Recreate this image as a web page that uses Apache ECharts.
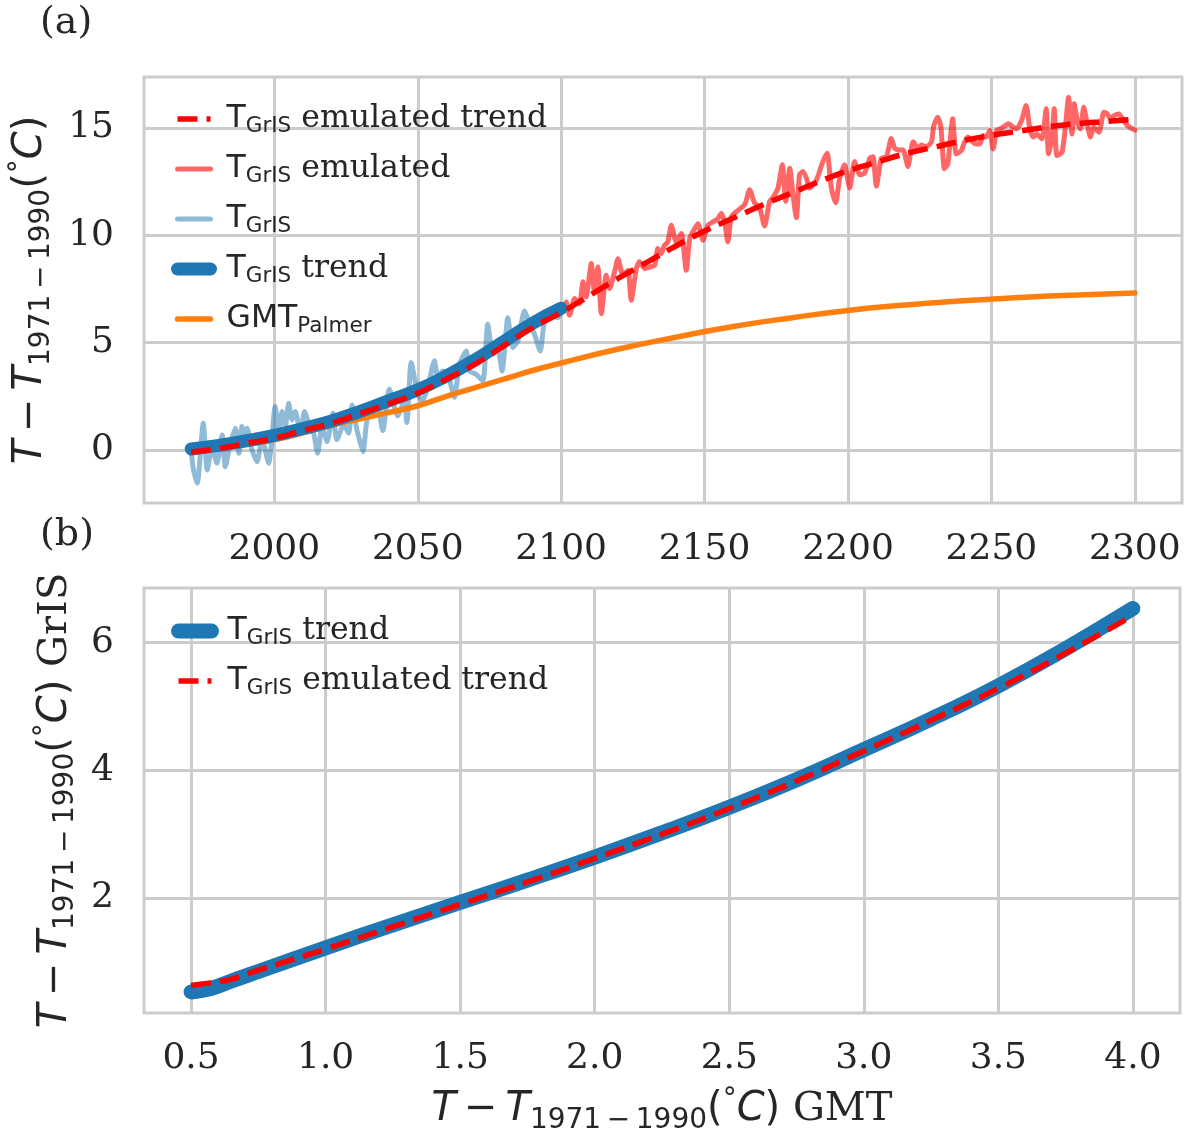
<!DOCTYPE html>
<html>
<head>
<meta charset="utf-8">
<title>GrIS temperature emulation</title>
<script src="https://cdn.jsdelivr.net/npm/echarts@6/dist/echarts.min.js"></script>
<style>
    html, body {margin: 0; padding: 0; background: #fff;}
    #chart {width: 1190px; height: 1134px;}
</style>
</head>
<body>
<div id="chart"></div>
<script>
// ---- data ----
// (a) trends, years vs degC
var grisTrendYears = [1971, 1980, 1990, 2000, 2010, 2020, 2030, 2040, 2050, 2060, 2070, 2080, 2090, 2100];
var grisTrend = [0.05, 0.2, 0.42, 0.68, 1.0, 1.35, 1.8, 2.3, 2.8, 3.45, 4.2, 5.05, 5.9, 6.6];

var emuTrendYears = [1971, 1980, 1990, 2000, 2010, 2020, 2030, 2040, 2050, 2060, 2070, 2080, 2090, 2100,
    2110, 2120, 2130, 2140, 2150, 2160, 2170, 2180, 2190, 2200, 2210, 2220, 2230, 2240, 2250, 2260, 2270, 2280, 2290, 2300];
var emuTrend = [-0.1, 0.05, 0.3, 0.55, 0.9, 1.25, 1.7, 2.15, 2.65, 3.3, 4.0, 4.85, 5.7, 6.4,
    7.2, 8.0, 8.75, 9.5, 10.2, 10.8, 11.4, 11.95, 12.5, 13.0, 13.4, 13.8, 14.1, 14.4, 14.65, 14.85, 15.05, 15.2, 15.3, 15.4];

var gmtYears = [1971, 1980, 1990, 2000, 2010, 2020, 2030, 2040, 2050, 2060, 2070, 2080, 2090, 2100,
    2120, 2140, 2160, 2180, 2200, 2220, 2240, 2260, 2280, 2300];
var gmtPalmer = [-0.15, 0.05, 0.25, 0.47, 0.8, 1.15, 1.45, 1.75, 2.06, 2.5, 2.9, 3.3, 3.7, 4.05,
    4.7, 5.25, 5.75, 6.15, 6.5, 6.75, 6.95, 7.1, 7.22, 7.31];

// (a) yearly GrIS temperature (model), 1971-2100
var grisYears = [1971, 1971.7, 1973.1, 1975.2, 1976.6, 1978.3, 1980, 1981.8, 1982.9, 1984.4,
    1986.4, 1987.6, 1988.7, 1989.6, 1990.5, 1992.2, 1994, 1995.7, 1998, 2000.3,
    2001.5, 2002.7, 2003.8, 2005, 2006.2, 2007.3, 2009.1, 2010.5, 2012, 2013.7,
    2015.1, 2016.6, 2018.4, 2020.4, 2021.8, 2024.2, 2025.9, 2027.1, 2028.8, 2030.9,
    2032.3, 2034, 2035.8, 2037.8, 2040.1, 2043, 2045.3, 2046.2, 2047.7, 2050,
    2051.7, 2053.5, 2055.8, 2057, 2058.7, 2060.5, 2062.8, 2064.5, 2066.9, 2068,
    2070.3, 2072.7, 2074.4, 2076.2, 2077.9, 2079.4, 2081.4, 2083.1, 2084.9, 2087.2,
    2089, 2090.7, 2092.7, 2094.2, 2096.5, 2098.8, 2100];
var grisValues = [0.0, -0.85, -1.55, 1.24, -0.93, 0.16, -0.62, 0.7, -0.78, 0.16,
    1.01, -0.15, 1.09, 0.45, 1.01, 0.0, -0.54, 0.54, -0.62, 2.02,
    0.93, 1.79, 1.09, 2.17, 1.4, 1.79, 0.78, 1.79, 1.24, 0.78,
    -0.15, 1.09, 0.39, 1.71, 0.47, 1.17, 0.78, 2.09, 0.93, -0.08,
    1.4, 1.71, 2.17, 0.9, 2.83, 1.59, 2.29, 1.28, 4.07, 2.6,
    2.29, 2.91, 4.15, 3.37, 3.68, 3.53, 2.45, 3.99, 4.61, 3.68,
    3.53, 3.22, 5.85, 4.46, 4.69, 3.68, 6.16, 4.77, 5.08, 6.47,
    5.85, 5.39, 4.61, 6.0, 6.32, 6.16, 6.47];

// (a) yearly emulated GrIS temperature, 2100-2300
var emuYears = [2100, 2101.7, 2102.9, 2104.7, 2106.4, 2107.6, 2108.7, 2110.5, 2111.6, 2112.8,
    2114, 2115.7, 2116.9, 2118.6, 2119.8, 2121.5, 2123.3, 2124.4, 2126.2, 2127.3,
    2129.1, 2130.8, 2132.6, 2133.7, 2134.9, 2136, 2137.2, 2138.4, 2140.1, 2141.9,
    2143.6, 2144.8, 2145.9, 2147.7, 2149.4, 2151.2, 2152.9, 2154.7, 2155.8, 2157,
    2158.1, 2159.3, 2161, 2164, 2165.7, 2167.4, 2169.2, 2170.9, 2172.7, 2173.8,
    2175.6, 2177.1, 2178.3, 2179.7, 2180.8, 2182, 2183.1, 2184.3, 2185.5, 2186.6,
    2188.4, 2189.5, 2191, 2192.7, 2194.2, 2195.7, 2197.1, 2198.8, 2200.6, 2202.3,
    2204.1, 2205.8, 2207.6, 2208.7, 2209.9, 2211.6, 2213.4, 2215.1, 2216.3, 2217.8,
    2219.2, 2220.9, 2222.7, 2224.4, 2225.6, 2227.3, 2229.1, 2229.9, 2231.3, 2232.4,
    2233.6, 2234.8, 2236.5, 2237.7, 2239.5, 2240.6, 2241.8, 2243.6, 2244.7, 2245.9,
    2247.1, 2248.2, 2249.4, 2250.6, 2251.8, 2252.9, 2254.1, 2255.9, 2257.6, 2258.8,
    2260.5, 2262.1, 2263.5, 2264.6, 2265.8, 2267.6, 2269.1, 2269.9, 2271.1, 2271.9,
    2272.8, 2274.6, 2275.8, 2276.9, 2278.1, 2278.9, 2279.9, 2281, 2282.2, 2283.4,
    2284.5, 2285.7, 2287.5, 2289.2, 2290.4, 2291.6, 2292.7, 2294.5, 2295.7, 2297.4,
    2299.2, 2300];
var emuValues = [6.45, 6.89, 6.27, 7.05, 6.82, 7.83, 7.13, 8.68, 7.36, 8.52,
    6.35, 8.14, 7.52, 8.29, 8.91, 8.14, 8.37, 6.97, 8.45, 8.76,
    8.45, 8.52, 8.6, 9.38, 9.15, 9.53, 9.69, 10.47, 9.69, 10.08,
    8.37, 9.84, 10.16, 10.54, 9.77, 10.47, 10.62, 10.78, 11.01, 10.62,
    9.69, 10.85, 11.09, 11.43, 12.12, 11.51, 11.28, 10.43, 11.58, 11.74,
    12.2, 13.28, 11.58, 13.12, 11.89, 10.82, 12.82, 12.97, 12.66, 12.2,
    12.43, 12.74, 13.35, 13.82, 12.2, 11.51, 12.66, 13.28, 12.2, 13.43,
    12.82, 12.89, 13.58, 13.66, 12.28, 13.58, 13.66, 14.51, 14.05, 13.97,
    13.97, 13.2, 14.35, 14.05, 14.2, 14.12, 14.35, 15.1, 15.5, 15.03,
    13.1, 13.32, 15.42, 13.79, 13.94, 14.33, 14.57, 14.33, 14.25, 14.25,
    14.64, 14.57, 14.88, 14.02, 14.88, 14.95, 15.03, 15.19, 15.03, 14.95,
    15.34, 16.04, 14.88, 14.57, 14.72, 14.49, 15.89, 13.79, 14.49, 15.89,
    13.71, 13.87, 15.03, 16.43, 14.72, 16.12, 15.34, 14.95, 15.96, 15.19,
    14.57, 15.03, 14.8, 15.73, 15.65, 15.42, 15.57, 15.65, 15.42, 15.11,
    14.95, 14.9];

// (b) GrIS trend against GMT trend
var gmtTrend = [0.5, 0.55, 0.6, 0.65, 0.75, 1.0, 1.25, 1.5, 1.75, 2.0, 2.25, 2.5, 2.75, 3.0, 3.25, 3.5, 3.75, 4.0];
var grisVsGmt = [0.53, 0.56, 0.62, 0.7, 0.85, 1.22, 1.58, 1.93, 2.28, 2.64, 3.02, 3.42, 3.85, 4.32, 4.8, 5.32, 5.9, 6.53];
var emuVsGmt = [0.63, 0.66, 0.69, 0.73, 0.87, 1.2, 1.55, 1.9, 2.25, 2.62, 3.0, 3.4, 3.83, 4.3, 4.78, 5.28, 5.83, 6.42];

// tick labels
var yearTicks = [2000, 2050, 2100, 2150, 2200, 2250, 2300];
var tempTicksA = [0, 5, 10, 15];
var gmtTicks = [0.5, 1.0, 1.5, 2.0, 2.5, 3.0, 3.5, 4.0];
var tempTicksB = [2, 4, 6];

// ---- styling ----
var SERIF = 'DejaVu Serif', SANS = 'DejaVu Sans';
var TEXT = '#262626', GRIDC = '#cccccc';
var BLUE = '#1f77b4', RED = '#ff0000', ORANGE = '#ff7f0e';

var legendRich = {
    t: {fontFamily: SANS, fontSize: 31.5, lineHeight: 40, color: TEXT, padding: [0, 0, 0, 11]},
    s: {fontFamily: SANS, fontSize: 21.5, lineHeight: 21, color: TEXT, padding: [14, 0, 0, 0]},
    r: {fontFamily: SERIF, fontSize: 31.5, lineHeight: 40, color: TEXT}
};
var legendText = {
    'emu trend': '{t|T}{s|GrIS}{r| emulated trend}',
    'emulated': '{t|T}{s|GrIS}{r| emulated}',
    'gris': '{t|T}{s|GrIS}',
    'gris trend': '{t|T}{s|GrIS}{r| trend}',
    'gmt': '{t|GMT}{s|Palmer}',
    'gris trend b': '{t|T}{s|GrIS}{r| trend}',
    'emu trend b': '{t|T}{s|GrIS}{r| emulated trend}'
};

var titleRich = {
    it: {fontFamily: SANS, fontStyle: 'italic', fontSize: 40, lineHeight: 50, color: TEXT},
    n: {fontFamily: SANS, fontSize: 40, lineHeight: 50, color: TEXT},
    sub: {fontFamily: SANS, fontSize: 28, lineHeight: 28, color: TEXT, padding: [21, 0, 0, 0]},
    sup: {fontFamily: SANS, fontSize: 28, lineHeight: 28, color: TEXT, padding: [0, 0, 20, 0]},
    r: {fontFamily: SERIF, fontSize: 40, lineHeight: 50, color: TEXT}
};
var tempTitle = '{it|T}{n|\u2009\u2212\u2009}{it|T}{sub|1971\u2009\u2212\u20091990}{n|(}{sup|\u00b0}{it|C}{n|)}';

function pairs(xs, ys) {
    return xs.map(function (x, i) { return [x, ys[i]]; });
}

function line(name, grid, xs, ys, color, width, z, extra) {
    var s = {
        type: 'line', name: name, xAxisIndex: grid, yAxisIndex: grid,
        data: pairs(xs, ys), showSymbol: false, symbol: 'none', z: z,
        silent: true, animation: false,
        itemStyle: {color: color},
        lineStyle: {color: color, width: width, cap: 'round', join: 'round'}
    };
    if (extra && extra.dash) { s.lineStyle.type = extra.dash; s.lineStyle.cap = 'butt'; }
    if (extra && extra.smooth) { s.smooth = extra.smooth; }
    return s;
}

function valueAxis(grid, min, max, ticks, margin, fmt) {
    return {
        gridIndex: grid, type: 'value', min: min, max: max,
        axisLine: {show: false},
        axisTick: {show: false, customValues: ticks},
        axisLabel: {customValues: ticks, margin: margin, fontFamily: SERIF, fontSize: 36, color: TEXT, formatter: fmt},
        splitLine: {show: true, lineStyle: {color: GRIDC, width: 3}}
    };
}

function legendBox(top, names) {
    return {
        orient: 'vertical', left: 171, top: top, padding: 0,
        itemWidth: 33, itemHeight: 14, itemGap: 14, selectedMode: false,
        data: names,
        formatter: function (name) { return legendText[name]; },
        textStyle: {fontFamily: SERIF, fontSize: 31.5, color: TEXT, rich: legendRich},
        // line only, no marker in the middle of the handle
        itemStyle: {opacity: 0, borderWidth: 0},
        lineStyle: {width: 'inherit'}
    };
}

var plain = function (v) { return String(v); };
var oneDec = function (v) { return v.toFixed(1); };

var xA = valueAxis(0, 1954.55, 2316.45, yearTicks, 29, plain);
var yA = valueAxis(0, -2.47, 17.37, tempTicksA, 30, plain);
var xB = valueAxis(1, 0.325, 4.175, gmtTicks, 28, oneDec);
var yB = valueAxis(1, 0.2, 6.85, tempTicksB, 30, plain);

yA.name = tempTitle; yA.nameLocation = 'middle'; yA.nameRotate = 90; yA.nameGap = 88;
yA.nameTextStyle = {rich: titleRich};
yB.name = tempTitle + '{r| GrIS}'; yB.nameLocation = 'middle'; yB.nameRotate = 90; yB.nameGap = 63;
yB.nameTextStyle = {rich: titleRich};
xB.name = tempTitle + '{r| GMT}'; xB.nameLocation = 'middle'; xB.nameGap = 72;
xB.nameTextStyle = {rich: titleRich};

var option = {
    backgroundColor: '#ffffff',
    animation: false,
    grid: [
        {left: 144, top: 77, width: 1038, height: 426, show: true, borderColor: GRIDC, borderWidth: 3, backgroundColor: 'transparent', outerBoundsMode: 'none'},
        {left: 144, top: 588, width: 1036, height: 425, show: true, borderColor: GRIDC, borderWidth: 3, backgroundColor: 'transparent', outerBoundsMode: 'none'}
    ],
    xAxis: [xA, xB],
    yAxis: [yA, yB],
    legend: [
        legendBox(101, ['emu trend', 'emulated', 'gris', 'gris trend', 'gmt']),
        legendBox(613, ['gris trend b', 'emu trend b'])
    ],
    graphic: [
        {type: 'text', left: 40, top: 4, style: {text: '(a)', font: '38px "DejaVu Serif"', fill: TEXT}},
        {type: 'text', left: 40, top: 516, style: {text: '(b)', font: '38px "DejaVu Serif"', fill: TEXT}}
    ],
    series: [
        line('gris', 0, grisYears, grisValues, 'rgba(31,119,180,0.5)', 5, 2, {smooth: 0.2}),
        line('emulated', 0, emuYears, emuValues, 'rgba(255,0,0,0.6)', 5, 3, {smooth: 0.2}),
        line('gmt', 0, gmtYears, gmtPalmer, ORANGE, 5.5, 4, {smooth: true}),
        line('gris trend', 0, grisTrendYears, grisTrend, BLUE, 13, 5, {smooth: true}),
        line('emu trend', 0, emuTrendYears, emuTrend, RED, 5.5, 6, {smooth: true, dash: [20, 9]}),
        line('gris trend b', 1, gmtTrend, grisVsGmt, BLUE, 15, 5, {smooth: true}),
        line('emu trend b', 1, gmtTrend, emuVsGmt, RED, 5.5, 6, {smooth: true, dash: [20, 9]})
    ]
};

var chart = echarts.init(document.getElementById('chart'), null, {renderer: 'canvas'});
chart.setOption(option);
</script>
</body>
</html>
